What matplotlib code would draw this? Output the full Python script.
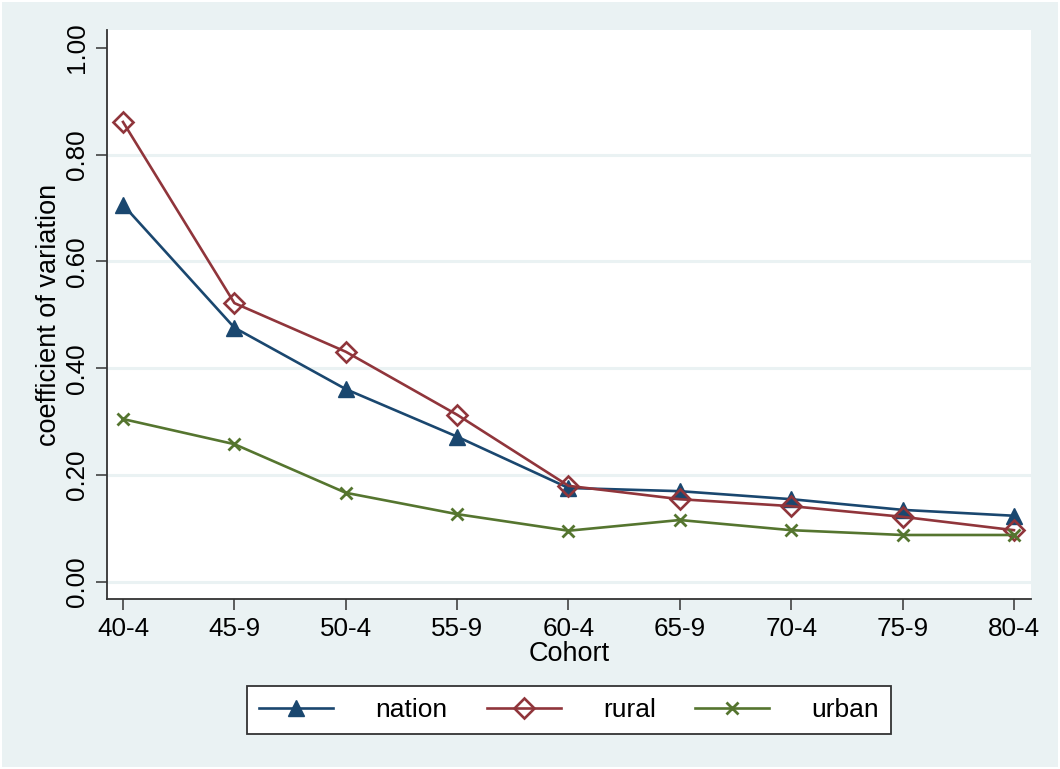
import matplotlib
matplotlib.use("Agg")
import matplotlib.pyplot as plt
from matplotlib.patches import Rectangle

plt.rcParams['font.family'] = ['Liberation Sans', 'DejaVu Sans']

cohorts = ["40-4", "45-9", "50-4", "55-9", "60-4", "65-9", "70-4", "75-9", "80-4"]
nation = [0.706, 0.476, 0.361, 0.272, 0.176, 0.170, 0.155, 0.135, 0.124]
rural = [0.861, 0.522, 0.431, 0.313, 0.180, 0.155, 0.142, 0.122, 0.097]
urban = [0.305, 0.258, 0.167, 0.127, 0.096, 0.116, 0.097, 0.088, 0.088]
yticks = [0.0, 0.2, 0.4, 0.6, 0.8, 1.0]
ytick_labels = ["0.00", "0.20", "0.40", "0.60", "0.80", "1.00"]

BG = "#EAF2F3"
C_NATION = "#1A476F"
C_RURAL = "#90353B"
C_URBAN = "#55752F"

W, H = 1060, 769
fig = plt.figure(figsize=(W / 100, H / 100), dpi=100, facecolor="white")
fig.patches.append(Rectangle((2 / W, 2 / H), 1 - 4 / W, 1 - 4 / H,
                             transform=fig.transFigure, facecolor=BG,
                             edgecolor="none", zorder=-10))

ax = fig.add_axes([107 / W, 1 - 599 / H, (1031 - 107) / W, (599 - 30) / H])
ax.set_facecolor("white")

x = list(range(len(cohorts)))
ax.plot(x, nation, color=C_NATION, lw=1.9, marker="^", ms=12,
        mfc=C_NATION, mec=C_NATION, label="nation", zorder=3)
ax.plot(x, rural, color=C_RURAL, lw=1.9, marker="D", ms=10,
        mfc="none", mec=C_RURAL, mew=1.9, label="rural", zorder=3)
ax.plot(x, urban, color=C_URBAN, lw=1.9, marker="x", ms=9,
        mec=C_URBAN, mew=2.0, label="urban", zorder=3)

ax.set_xlim(-0.1437, 8.153)
ax.set_ylim(-0.0318, 1.0331)
ax.set_xticks(x)
ax.set_xticklabels(cohorts)
ax.set_yticks(yticks)
ax.set_yticklabels(ytick_labels, rotation=90, va="center")

for yv in yticks[:-1]:
    ax.axhline(yv, color=BG, lw=2.2, zorder=1)

for s in ["top", "right"]:
    ax.spines[s].set_visible(False)
for s in ["left", "bottom"]:
    ax.spines[s].set_color("#333333")
    ax.spines[s].set_linewidth(1.3)

ax.tick_params(axis="both", labelsize=18.7, length=8, width=1.1,
               color="#333333", labelcolor="black")
ax.tick_params(axis="y", pad=5)
ax.tick_params(axis="x", pad=5)

ax.set_xlabel("Cohort", fontsize=19.5, labelpad=0)
ax.set_ylabel("coefficient of variation", fontsize=19.5, labelpad=2)

leg = fig.legend(loc="center", bbox_to_anchor=(569 / W, 1 - 710 / H),
                 bbox_transform=fig.transFigure, ncol=3, fontsize=19,
                 frameon=True, fancybox=False, numpoints=1,
                 handlelength=2.8, handletextpad=1.6, columnspacing=1.5,
                 borderpad=0.45, borderaxespad=0)
frame = leg.get_frame()
frame.set_edgecolor("#333333")
frame.set_linewidth(1.3)
frame.set_facecolor("white")
frame.set_alpha(1)

fig.savefig("out.png", dpi=100, facecolor=fig.get_facecolor())
